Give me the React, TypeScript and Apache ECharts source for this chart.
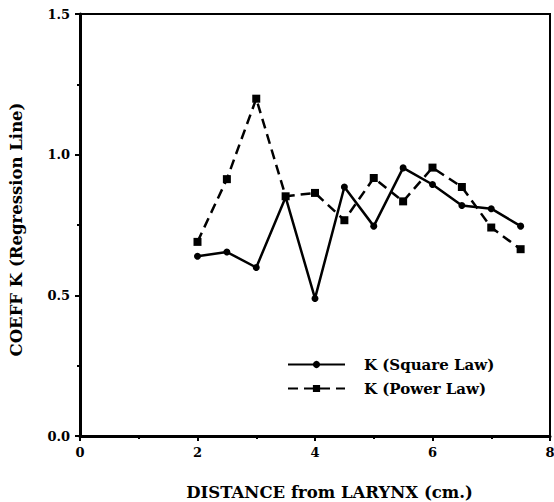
import React, { useEffect, useRef } from "react";
import * as echarts from "echarts";

const distances = [2, 2.5, 3, 3.5, 4, 4.5, 5, 5.5, 6, 6.5, 7, 7.5];
const squareLaw = [0.639, 0.654, 0.599, 0.849, 0.489, 0.885, 0.746, 0.953, 0.894, 0.819, 0.808, 0.746];
const powerLaw = [0.69, 0.913, 1.199, 0.852, 0.864, 0.767, 0.917, 0.834, 0.954, 0.885, 0.741, 0.664];
const seriesNames = ["K (Square Law)", "K (Power Law)"];
const xTitle = "DISTANCE from LARYNX (cm.)";
const yTitle = "COEFF K (Regression Line)";

const FONT = "DejaVu Serif";

export default function App() {
  const ref = useRef<HTMLDivElement>(null);
  useEffect(() => {
    if (!ref.current) return;
    const chart = echarts.init(ref.current, undefined, { renderer: "svg" });
    const pair = (ys: number[]) => distances.map((x, i) => [x, ys[i]]);
    chart.setOption({
      animation: false,
      backgroundColor: "#fff",
      grid: {
        left: 80,
        top: 14,
        width: 470,
        height: 422,
        outerBoundsMode: "none",
        containLabel: false,
        show: true,
        borderColor: "#000",
        borderWidth: 2,
        backgroundColor: "transparent",
      },
      xAxis: {
        type: "value",
        min: 0,
        max: 8,
        interval: 2,
        name: xTitle,
        nameLocation: "middle",
        nameGap: 48,
        nameTextStyle: {
          fontFamily: FONT,
          fontWeight: "bold",
          fontSize: 16.5,
          lineHeight: 16,
          color: "#000",
          padding: [0, 0, 0, 29],
        },
        axisLine: { show: true, lineStyle: { color: "#000", width: 3 } },
        axisTick: { show: true, length: 5, lineStyle: { color: "#000", width: 2 } },
        minorTick: { show: true, splitNumber: 2, length: 3, lineStyle: { color: "#000", width: 2 } },
        splitLine: { show: false },
        axisLabel: { fontFamily: FONT, fontWeight: "bold", fontSize: 13, color: "#000", margin: 10 },
      },
      yAxis: {
        type: "value",
        min: 0,
        max: 1.5,
        interval: 0.5,
        name: yTitle,
        nameLocation: "middle",
        nameGap: 55,
        nameTextStyle: {
          fontFamily: FONT,
          fontWeight: "bold",
          fontSize: 16.5,
          color: "#000",
          padding: [0, 9, 0, 0],
        },
        axisLine: { show: true, lineStyle: { color: "#000", width: 3 } },
        axisTick: { show: true, length: 5, lineStyle: { color: "#000", width: 2 } },
        minorTick: { show: true, splitNumber: 2, length: 3, lineStyle: { color: "#000", width: 2 } },
        splitLine: { show: false },
        axisLabel: {
          fontFamily: FONT,
          fontWeight: "bold",
          fontSize: 13,
          color: "#000",
          margin: 10,
          formatter: (v: number) => v.toFixed(1),
        },
      },
      legend: {
        left: 287,
        top: 357,
        padding: 0,
        orient: "vertical",
        itemWidth: 57,
        itemHeight: 9,
        itemGap: 9,
        textStyle: { fontFamily: FONT, fontWeight: "bold", fontSize: 15, color: "#000", padding: [0, 0, 0, 14] },
        data: seriesNames,
      },
      series: [
        {
          name: seriesNames[0],
          type: "line",
          data: pair(squareLaw),
          symbol: "circle",
          symbolSize: 7,
          itemStyle: { color: "#000" },
          lineStyle: { color: "#000", width: 2.5 },
        },
        {
          name: seriesNames[1],
          type: "line",
          data: pair(powerLaw),
          symbol: "rect",
          symbolSize: 8,
          itemStyle: { color: "#000" },
          lineStyle: { color: "#000", width: 2.5, type: [10, 6] },
        },
      ],
    });
    return () => chart.dispose();
  }, []);
  return (
    <div
      ref={ref}
      style={{ position: "absolute", left: 0, top: 0, width: 554, height: 502 }}
    />
  );
}
